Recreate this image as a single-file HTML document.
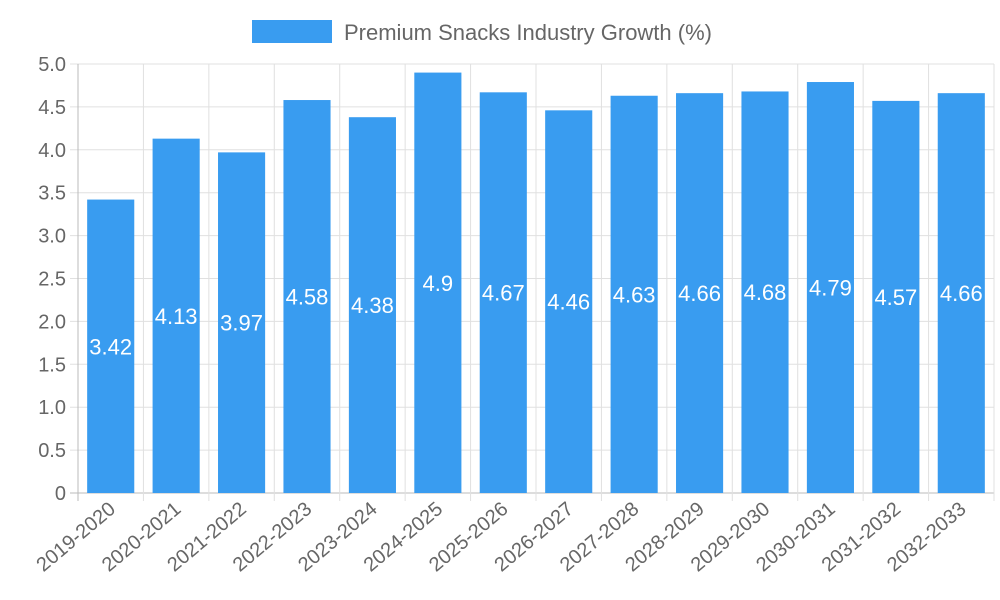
<!DOCTYPE html>
<html><head><meta charset="utf-8"><style>
html,body{margin:0;padding:0;background:#fff;}
svg{display:block;font-family:"Liberation Sans",sans-serif;}
</style></head><body>
<svg id="chart" width="1000" height="600">
<g>
<rect x="252" y="20" width="80" height="23" fill="#399cf0"></rect>
<text x="344" y="40" font-size="22" fill="#666">Premium Snacks Industry Growth (%)</text>
</g>
<g id="grid"></g><g id="bars"></g><g id="labels"></g>
</svg>
<script>
const categories=["2019-2020","2020-2021","2021-2022","2022-2023","2023-2024","2024-2025","2025-2026","2026-2027","2027-2028","2028-2029","2029-2030","2030-2031","2031-2032","2032-2033"];
const values=[3.42,4.13,3.97,4.58,4.38,4.9,4.67,4.46,4.63,4.66,4.68,4.79,4.57,4.66];
const yTicks=[0,0.5,1,1.5,2,2.5,3,3.5,4,4.5,5];
const yTickLabels=["0","0.5","1.0","1.5","2.0","2.5","3.0","3.5","4.0","4.5","5.0"];
const NS="http://www.w3.org/2000/svg";
const L=78,R=994,T=64,B=493;
const y=v=>B-(v/5)*(B-T);
const bw=(R-L)/categories.length;
const x=i=>L+bw*i;
function mk(tag,attrs,parent,text){const e=document.createElementNS(NS,tag);for(const k in attrs)e.setAttribute(k,attrs[k]);if(text!==undefined)e.textContent=text;parent.appendChild(e);return e;}
const g=document.getElementById('grid'),gb=document.getElementById('bars'),gl=document.getElementById('labels');
yTicks.forEach((t,i)=>{
 const ln=mk('line',{x1:L-8,x2:R,y1:y(t),y2:y(t),stroke:t===0?'#bbb':'#e0e0e0','stroke-width':1},g);
 
 
 const tx=mk('text',{x:L-12,y:y(t)+7,'text-anchor':'end','font-size':20,fill:'#666'},g,yTickLabels[i]);
 
 
});
for(let i=0;i<=categories.length;i++){
 const ln=mk('line',{x1:x(i),x2:x(i),y1:T,y2:B+8,stroke:i===0?'#bbb':'#e0e0e0','stroke-width':1},g);
 
 
}
categories.forEach((c,i)=>{
 const cx=x(i)+bw/2,w=bw*0.72;
 const r=mk('rect',{x:cx-w/2,y:y(values[i]),width:w,height:B-y(values[i]),fill:'#399cf0'},gb);
 
 
 const v=mk('text',{x:cx,y:(y(values[i])+B)/2+8,'text-anchor':'middle','font-size':22,fill:'#fff'},gl,String(values[i]));
 
 
 const t=mk('text',{x:cx+6,y:B+18,'text-anchor':'end','font-size':20,fill:'#666',transform:`rotate(-40 ${cx+6} ${B+18})`},gl,c);
 
 
});
</script>
</body></html>
